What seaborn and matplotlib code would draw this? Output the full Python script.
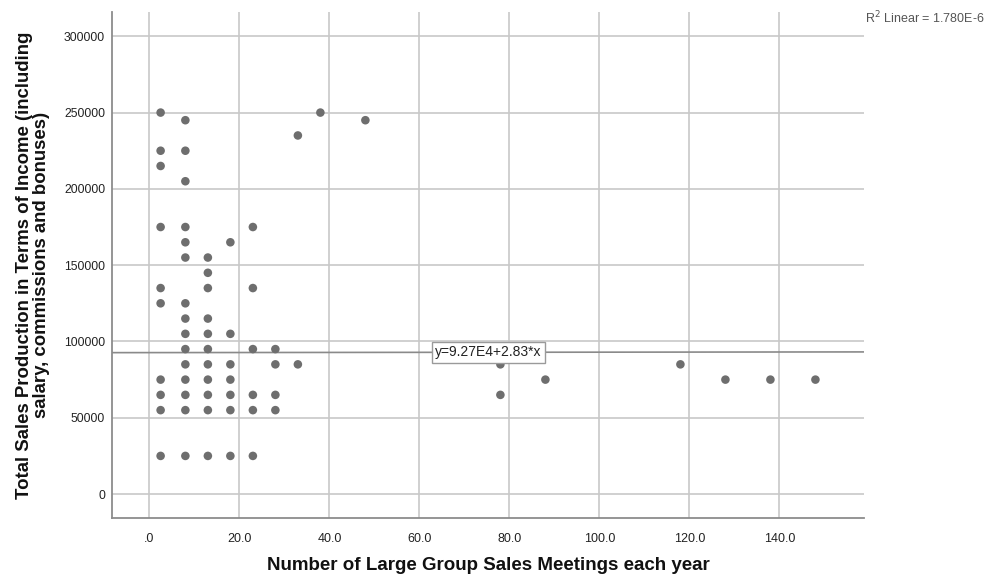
import matplotlib
matplotlib.use("Agg")
import matplotlib.pyplot as plt
import seaborn as sns
import numpy as np
import pandas as pd

# Meetings per year (coded by range midpoint) and total sales production
meetings = [
    2.5, 2.5, 2.5, 2.5, 2.5, 2.5, 2.5, 2.5, 2.5, 2.5,
    8, 8, 8, 8, 8, 8, 8, 8, 8, 8, 8, 8, 8, 8, 8,
    13, 13, 13, 13, 13, 13, 13, 13, 13, 13, 13,
    18, 18, 18, 18, 18, 18, 18,
    23, 23, 23, 23, 23, 23,
    28, 28, 28, 28,
    33, 33,
    38,
    48,
    78, 78,
    88,
    118,
    128, 138, 148,
]
sales = [
    250000, 225000, 215000, 175000, 135000, 125000, 75000, 65000, 55000, 25000,
    245000, 225000, 205000, 175000, 165000, 155000, 125000, 115000, 105000, 95000,
    85000, 75000, 65000, 55000, 25000,
    155000, 145000, 135000, 115000, 105000, 95000, 85000, 75000, 65000, 55000, 25000,
    165000, 105000, 85000, 75000, 65000, 55000, 25000,
    175000, 135000, 95000, 65000, 55000, 25000,
    95000, 85000, 65000, 55000,
    235000, 85000,
    250000,
    245000,
    85000, 65000,
    75000,
    85000,
    75000, 75000, 75000,
]

# Linear fit reported for the data
fit_intercept = 9.27e4
fit_slope = 2.83
fit_label = "y=9.27E4+2.83*x"
r2_label = "R$^2$ Linear = 1.780E-6"

x_ticks = [0, 20, 40, 60, 80, 100, 120, 140]
x_tick_labels = [".0", "20.0", "40.0", "60.0", "80.0", "100.0", "120.0", "140.0"]
y_ticks = [0, 50000, 100000, 150000, 200000, 250000, 300000]

df = pd.DataFrame({"meetings": meetings, "sales": sales})

sns.set_theme(style="white")
plt.rcParams["font.family"] = ["Liberation Sans", "DejaVu Sans"]

fig = plt.figure(figsize=(9.86, 5.75), dpi=100)
ax = fig.add_axes([0.1136, 0.0991, 0.7627, 0.8800])

grid_color = "#c8c8c8"
for t in x_ticks:
    ax.axvline(t, color=grid_color, lw=1.2, zorder=0)
for t in y_ticks:
    ax.axhline(t, color=grid_color, lw=1.2, zorder=0)

sns.scatterplot(data=df, x="meetings", y="sales", ax=ax, s=38,
                color="#6e6e6e", edgecolor="none", linewidth=0, zorder=3)

xlim = (-8.3, 158.8)
fit_x = np.array(xlim)
ax.plot(fit_x, fit_intercept + fit_slope * fit_x, color="#8a8a8a", lw=1.2, zorder=2)

label_x = 75.3
ax.text(label_x, fit_intercept + fit_slope * label_x, fit_label,
        ha="center", va="center", fontsize=10, color="#222222", zorder=5,
        bbox=dict(boxstyle="square,pad=0.25", fc="white", ec="#9a9a9a", lw=1))

ax.set_xlim(*xlim)
ax.set_ylim(-15700, 315900)
ax.set_xticks(x_ticks)
ax.set_xticklabels(x_tick_labels)
ax.set_yticks(y_ticks)
ax.set_yticklabels([str(v) for v in y_ticks])
ax.tick_params(axis="x", length=0, pad=11, labelsize=9, labelcolor="#222222")
ax.tick_params(axis="y", length=0, pad=5, labelsize=8.8, labelcolor="#222222")

for side in ("top", "right"):
    ax.spines[side].set_visible(False)
for side in ("left", "bottom"):
    ax.spines[side].set_color("#8c8c8c")
    ax.spines[side].set_linewidth(1.3)

ax.set_xlabel("Number of Large Group Sales Meetings each year",
              fontsize=13.5, fontweight="bold", color="#111111")
ax.set_ylabel("Total Sales Production in Terms of Income (including\nsalary, commissions and bonuses)",
              fontsize=13.4, fontweight="bold", color="#111111", linespacing=1.0)
ax.xaxis.set_label_coords(0.5, -0.077)
ax.yaxis.set_label_coords(-0.0825, 0.5)

fig.text(865 / 986, 1 - 18 / 575, r2_label, fontsize=9, color="#555555",
         ha="left", va="center")

fig.savefig("out.png", dpi=100)
